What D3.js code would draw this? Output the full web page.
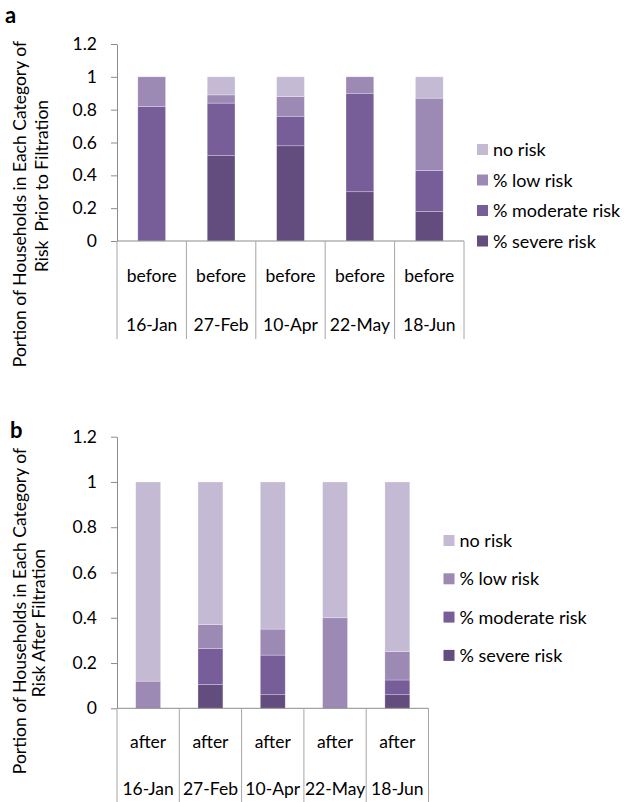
<!DOCTYPE html>
<html><head><meta charset="utf-8">
<script src="https://cdn.jsdelivr.net/npm/d3@7"></script>
<style>
body{margin:0;background:#fff;}
text{font-family:Lato,"Open Sans",sans-serif;fill:#000;}
</style></head>
<body>
<svg id="c" width="624" height="802"></svg>
<script>
const dates = ["16-Jan","27-Feb","10-Apr","22-May","18-Jun"];
const keys = ["severe","moderate","low","none"];
const legendLabels = ["no risk","% low risk","% moderate risk","% severe risk"];
const colors = {none:"#c4bad3", low:"#9c89b4", moderate:"#785e99", severe:"#634d7e"};
const yTicks = [0,0.2,0.4,0.6,0.8,1,1.2];

const beforeSevere   = [0, 0.52, 0.58, 0.30, 0.18];
const beforeModerate = [0.82, 0.32, 0.18, 0.60, 0.25];
const beforeLow      = [0.18, 0.05, 0.12, 0.10, 0.44];
const beforeNone     = [0, 0.11, 0.12, 0, 0.13];

const afterSevere   = [0, 0.105, 0.06, 0, 0.06];
const afterModerate = [0, 0.16, 0.175, 0, 0.065];
const afterLow      = [0.12, 0.105, 0.115, 0.40, 0.125];
const afterNone     = [0.88, 0.63, 0.65, 0.60, 0.75];

const FS = 17.5;
const LFS = 18;
const svg = d3.select("#c");

function build(sev, mod, low, none){
  return dates.map((d,i)=>({date:d, severe:sev[i], moderate:mod[i], low:low[i], none:none[i]}));
}

function panel(cfg){
  const g = svg.append("g");
  const x = d3.scaleBand().domain(dates).range([cfg.x0, cfg.x1]).padding(0);
  const y = d3.scaleLinear().domain([0,1.2]).range([cfg.y0, cfg.yTop]);
  const data = build(...cfg.series);
  const stack = d3.stack().keys(keys)(data);
  const bw = x.bandwidth()*0.4;

  g.selectAll("g.s").data(stack).join("g").attr("fill", d=>colors[d.key])
    .selectAll("rect").data(d=>d).join("rect")
    .attr("x", d=>x(d.data.date)+(x.bandwidth()-bw)/2)
    .attr("width", bw)
    .attr("y", d=>y(d[1]))
    .attr("height", d=>Math.max(0, y(d[0])-y(d[1])))
    .attr("stroke", "#ffffff").attr("stroke-opacity", 0.45).attr("stroke-width", 0.6);

  const ya = g.append("g").attr("transform", `translate(${cfg.x0},0)`)
    .call(d3.axisLeft(y).tickValues(yTicks).tickFormat(d=>String(+d.toFixed(1))).tickSize(6).tickSizeOuter(0).tickPadding(14));
  ya.selectAll("path,line").attr("stroke","#8c8c8c");
  ya.selectAll("text").attr("font-size", FS).attr("font-family","Lato").attr("fill","#000");

  g.append("line").attr("x1", cfg.x0).attr("x2", cfg.x1).attr("y1", cfg.y0).attr("y2", cfg.y0)
    .attr("stroke","#8c8c8c");
  const bounds = dates.map(d=>x(d)).concat([cfg.x1]);
  g.selectAll("line.sep").data(bounds).join("line")
    .attr("x1", d=>d).attr("x2", d=>d).attr("y1", cfg.y0).attr("y2", cfg.sepBottom)
    .attr("stroke","#a6a6a6");
  g.selectAll("text.l1").data(dates).join("text")
    .attr("x", d=>x(d)+x.bandwidth()/2).attr("y", cfg.row1)
    .attr("text-anchor","middle").attr("font-size",FS).text(cfg.rowLabel);
  g.selectAll("text.l2").data(dates).join("text")
    .attr("x", d=>x(d)+x.bandwidth()/2).attr("y", cfg.row2)
    .attr("text-anchor","middle").attr("font-size",FS).text(d=>d);

  cfg.titles.forEach(t=>{
    g.append("text").attr("transform", `translate(${t.x},${t.y}) rotate(-90)`)
      .attr("text-anchor","middle").attr("font-size",FS)
      .style("white-space","pre").text(t.text);
  });

  g.append("text").attr("x", cfg.letter[0]).attr("y", cfg.letter[1])
    .attr("font-size",22).attr("font-weight","bold").attr("font-family","Liberation Sans, Arial").text(cfg.letterText);

  const lg = g.selectAll("g.lg").data(legendLabels).join("g")
    .attr("transform",(d,i)=>`translate(${cfg.legX},${cfg.legY+i*cfg.legStep})`);
  lg.append("rect").attr("x",0).attr("y",-6).attr("width",11).attr("height",11)
    .attr("fill",(d,i)=>colors[keys[3-i]]);
  lg.append("text").attr("x",16).attr("y",6).attr("font-size",LFS).text(d=>d);
}

panel({
  x0:117, x1:464, y0:241, yTop:44, sepBottom:339,
  series:[beforeSevere, beforeModerate, beforeLow, beforeNone],
  row1:282, row2:331, rowLabel:"before",
  titles:[{x:26,y:204,text:"Portion of Households in Each Category of"},
          {x:48,y:186,text:"Risk  Prior to Filtration"}],
  letter:[5,23], letterText:"a",
  legX:477, legY:150, legStep:30.5
});

panel({
  x0:117, x1:428.5, y0:708.3, yTop:436.7, sepBottom:802,
  series:[afterSevere, afterModerate, afterLow, afterNone],
  row1:748, row2:795, rowLabel:"after",
  titles:[{x:26,y:611,text:"Portion of Households in Each Category of"},
          {x:45,y:623,text:"Risk After Filtration"}],
  letter:[10,438], letterText:"b",
  legX:443.5, legY:541, legStep:38.3
});
</script>
</body></html>
